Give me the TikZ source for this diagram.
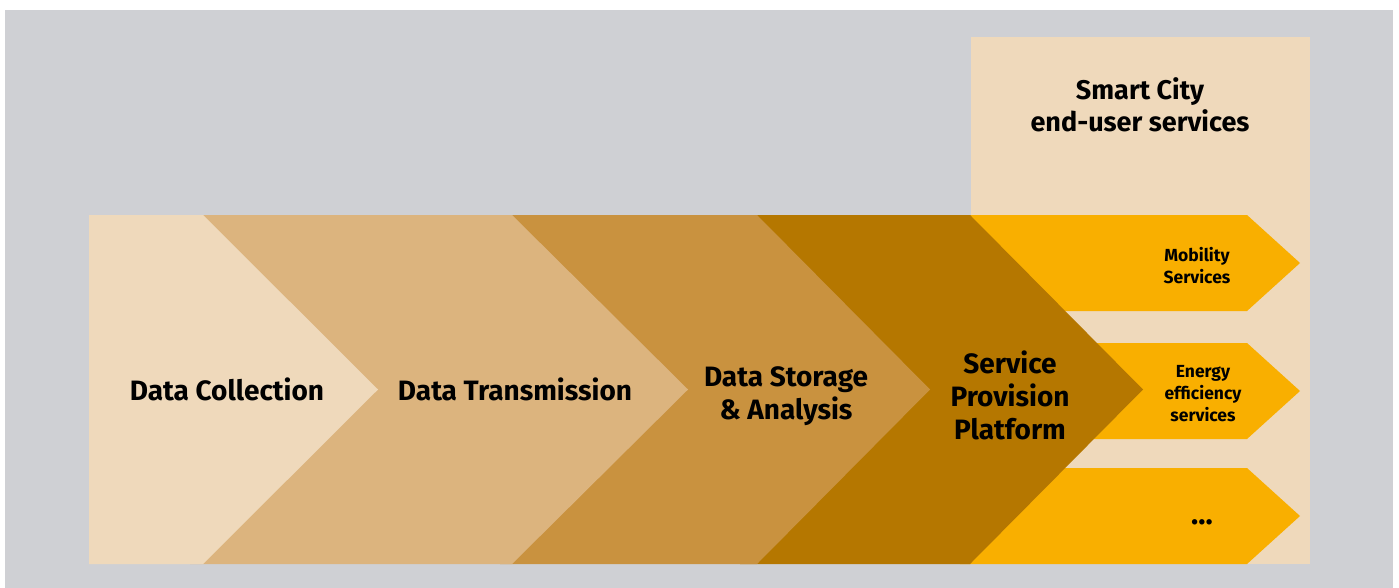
\documentclass[tikz,border=0pt]{standalone}
\usepackage{fontspec}
\setmainfont{Fira Sans}
\definecolor{bggray}{HTML}{CFD0D4}
\definecolor{beige}{HTML}{EFD9BB}
\definecolor{sand}{HTML}{DCB47E}
\definecolor{ochre}{HTML}{C9923F}
\definecolor{bronze}{HTML}{B57700}
\definecolor{amber}{HTML}{F9AF00}
\tikzset{
  stage/.style={font=\bfseries\fontsize{28}{33}\selectfont, align=center, text=black, inner sep=0pt},
  head/.style={font=\bfseries\fontsize{27}{32}\selectfont, align=center, text=black, inner sep=0pt},
  svc/.style={font=\bfseries\fontsize{17.5}{22}\selectfont, align=center, text=black, inner sep=0pt},
  dots/.style={font=\bfseries\fontsize{30}{30}\selectfont, text=black, inner sep=0pt},
}
\begin{document}
\begin{tikzpicture}[x=1pt,y=-1pt]
  % page and grey panel
  \fill[white] (0,0) rectangle (1399,588);
  \useasboundingbox (0,0) rectangle (1399,588);
  \fill[bggray] (5,10) rectangle (1393,588);

  % end-user services column
  \fill[beige] (971,37) rectangle (1310,564);

  % service arrows (left ends tucked under the platform chevron)
  \fill[amber] (960,215) -- (1247,215) -- (1300,263) -- (1247,311) -- (960,311) -- cycle;
  \fill[amber] (960,343) -- (1247,343) -- (1300,391) -- (1247,439) -- (960,439) -- cycle;
  \fill[amber] (960,468) -- (1247,468) -- (1300,516) -- (1247,564) -- (960,564) -- cycle;

  % value chain chevrons, drawn right to left so each overlaps the next
  \fill[bronze] (740,215) -- (970,215) -- (1143,389.5) -- (970,564) -- (740,564) -- cycle;
  \fill[ochre]  (500,215) -- (757,215) -- (930,389.5)  -- (757,564) -- (500,564) -- cycle;
  \fill[sand]   (190,215) -- (512,215) -- (688,389.5)  -- (512,564) -- (190,564) -- cycle;
  \fill[beige]  (89,215)  -- (203,215) -- (378,389.5)  -- (203,564) -- (89,564)  -- cycle;

  % labels
  \node[head]  (city)     at (1140,105)   {Smart City\\end-user services};
  \node[stage] (collect)  at (227,389)    {Data Collection};
  \node[stage] (transmit) at (515,389)    {Data Transmission};
  \node[stage] (storage)  at (786,396)    {Data Storage\\\& Analysis};
  \node[stage] (platform) at (1010,395)   {Service\\Provision\\Platform};
  \node[svc]   (mobility) at (1197,266)   {Mobility\\Services};
  \node[svc]   (energy)   at (1203,394)   {Energy\\efficiency\\services};
  \node[dots]  (more)     at (1202,522)   {...};
\end{tikzpicture}
\end{document}
